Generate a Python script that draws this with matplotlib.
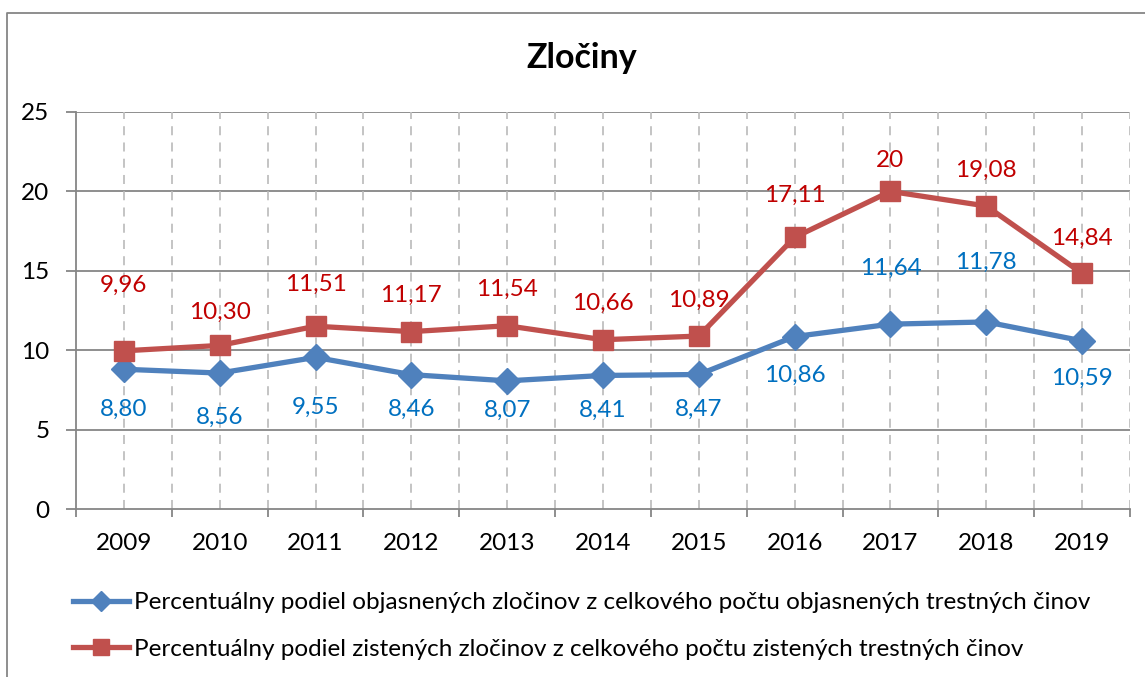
import matplotlib
matplotlib.use("Agg")
import matplotlib.pyplot as plt
from matplotlib.lines import Line2D
import numpy as np

years = ["2009", "2010", "2011", "2012", "2013", "2014", "2015", "2016", "2017", "2018", "2019"]
objasnene = [8.80, 8.56, 9.55, 8.46, 8.07, 8.41, 8.47, 10.86, 11.64, 11.78, 10.59]
zistene = [9.96, 10.30, 11.51, 11.17, 11.54, 10.66, 10.89, 17.11, 20.00, 19.08, 14.84]
objasnene_lbl = ["8,80", "8,56", "9,55", "8,46", "8,07", "8,41", "8,47", "10,86", "11,64", "11,78", "10,59"]
zistene_lbl = ["9,96", "10,30", "11,51", "11,17", "11,54", "10,66", "10,89", "17,11", "20", "19,08", "14,84"]
legend_labels = [
    "Percentuálny podiel objasnených zločinov z celkového počtu objasnených trestných činov",
    "Percentuálny podiel zistených zločinov z celkového počtu zistených trestných činov",
]
title = "Zločiny"

# label offsets in points (layout only)
blue_off = [-29, -32, -36, -25, -21, -25, -25, -28, 40, 43, -27]
red_off = [47, 24, 30, 26, 26, 26, 26, 30, 22, 26, 25]

plt.rcParams['font.family'] = ['Lato', 'DejaVu Sans']
BLUE = "#4F81BD"
RED = "#C0504D"
BLUE_T = "#0070C0"
RED_T = "#C00000"
FS = 17.5

fig = plt.figure(figsize=(11.45, 6.77), dpi=100)
ax = fig.add_axes([76/1145, 1-509/677, (1130-76)/1145, (509-112)/677])

x = np.arange(len(years))
ax.set_xlim(-0.5, len(years)-0.5)
ax.set_ylim(0, 25)

# gridlines
for yv in [5, 10, 15, 20, 25]:
    ax.axhline(yv, color="#868686", lw=1.3, zorder=1)
for xv in np.arange(-0.5, len(years), 0.5)[1:]:
    ax.axvline(xv, color="#BFBFBF", lw=1.3, ls=(0, (5, 4)), zorder=1)

ax.plot(x, objasnene, color=BLUE, lw=3.8, marker="D", ms=13, mfc=BLUE, mec=BLUE, zorder=3,
        label=legend_labels[0])
ax.plot(x, zistene, color=RED, lw=3.8, marker="s", ms=14, mfc=RED, mec=RED, zorder=4,
        label=legend_labels[1])

for i in range(len(years)):
    ax.annotate(objasnene_lbl[i], (x[i], objasnene[i]), xytext=(0, blue_off[i]),
                textcoords="offset points", ha="center", va="center", color=BLUE_T, fontsize=FS)
    ax.annotate(zistene_lbl[i], (x[i], zistene[i]), xytext=(0, red_off[i]),
                textcoords="offset points", ha="center", va="center", color=RED_T, fontsize=FS)

for s in ["top", "right"]:
    ax.spines[s].set_visible(False)
for s in ["left", "bottom"]:
    ax.spines[s].set_color("#868686")
    ax.spines[s].set_linewidth(1.3)

ax.set_yticks([0, 5, 10, 15, 20, 25])
ax.set_yticklabels(["0", "5", "10", "15", "20", "25"])
ax.set_xticks(x)
ax.set_xticklabels(years)
ax.set_xticks(np.arange(-0.5, len(years), 1.0), minor=True)
ax.tick_params(axis="x", which="major", length=0, labelsize=FS, pad=17)
ax.tick_params(axis="x", which="minor", length=6, width=1.3, color="#868686", direction="out")
ax.tick_params(axis="y", length=7, width=1.3, color="#868686", labelsize=FS, pad=12)

fig.text(582/1145, 1-58/677, title, ha="center", va="center", fontsize=24.5, fontweight="bold")

# outer chart border (left and top visible)
fig.add_artist(Line2D([7/1145, 7/1145, 1.0], [0.0, 1-13/677, 1-13/677],
                      transform=fig.transFigure, color="#868686", lw=1.3))

leg = fig.legend(loc="upper left", bbox_to_anchor=(73/1145, 1-592/677), frameon=False,
                 fontsize=FS, handlelength=2.3, handletextpad=0.2, labelspacing=1.05,
                 borderaxespad=0, borderpad=0, markerscale=0.8)

fig.savefig("out.png", dpi=100)
